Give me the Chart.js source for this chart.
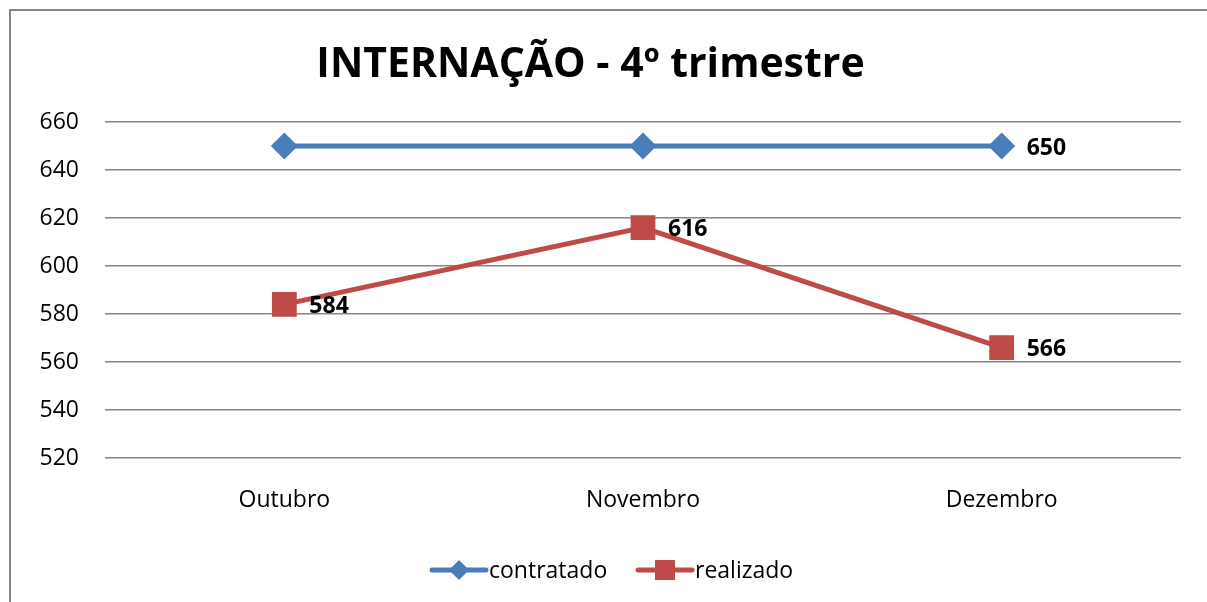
<!DOCTYPE html>
<html>
<head>
<meta charset="utf-8">
<script src="https://cdn.jsdelivr.net/npm/chart.js@4"></script>
<style>
  html, body { margin: 0; padding: 0; background: #fff; }
  #wrap { position: relative; width: 1207px; height: 602px; }
</style>
</head>
<body>
<div id="wrap"><canvas id="c"></canvas></div>
<script>
const categories = ['Outubro', 'Novembro', 'Dezembro'];
const contratado = [650, 650, 650];
const realizado = [584, 616, 566];
const contratadoShowLabel = [false, false, true];
const realizadoShowLabel = [true, true, true];
const yTicks = [520, 540, 560, 580, 600, 620, 640, 660];
const chartTitle = 'INTERNAÇÃO - 4º trimestre';

const FONT = "'Open Sans', 'DejaVu Sans', sans-serif";
const BLUE = '#4A7EBB';
const RED = '#BE4B48';

const frame = {
  id: 'frame',
  beforeDraw(chart) {
    const ctx = chart.ctx;
    ctx.save();
    ctx.strokeStyle = '#868686';
    ctx.lineWidth = 2;
    ctx.beginPath();
    ctx.moveTo(10, chart.height);
    ctx.lineTo(10, 10);
    ctx.lineTo(chart.width, 10);
    ctx.stroke();
    ctx.restore();
  }
};

const valueLabels = {
  id: 'valueLabels',
  afterDatasetsDraw(chart) {
    const ctx = chart.ctx;
    ctx.save();
    ctx.font = 'bold 23px ' + FONT;
    ctx.fillStyle = '#000';
    ctx.textAlign = 'left';
    ctx.textBaseline = 'middle';
    chart.data.datasets.forEach((ds, i) => {
      const meta = chart.getDatasetMeta(i);
      meta.data.forEach((pt, j) => {
        if (ds.showLabel && ds.showLabel[j]) {
          ctx.fillText(String(ds.data[j]), pt.x + 25, pt.y + 2);
        }
      });
    });
    ctx.restore();
  }
};

const lineLegend = {
  id: 'lineLegend',
  afterDraw(chart) {
    const ctx = chart.ctx;
    const y = 570;
    const items = [
      { x: 432, ds: chart.data.datasets[0] },
      { x: 638, ds: chart.data.datasets[1] }
    ];
    ctx.save();
    ctx.font = '23px ' + FONT;
    ctx.textBaseline = 'middle';
    ctx.textAlign = 'left';
    items.forEach(it => {
      const ds = it.ds;
      ctx.strokeStyle = ds.borderColor;
      ctx.lineWidth = 5;
      ctx.lineCap = 'round';
      ctx.beginPath();
      ctx.moveTo(it.x, y);
      ctx.lineTo(it.x + 54, y);
      ctx.stroke();
      ctx.fillStyle = ds.pointBackgroundColor;
      const cx = it.x + 27;
      ctx.beginPath();
      if (ds.pointStyle === 'rectRot') {
        ctx.moveTo(cx, y - 10); ctx.lineTo(cx + 10, y); ctx.lineTo(cx, y + 10); ctx.lineTo(cx - 10, y);
        ctx.closePath();
      } else {
        ctx.rect(cx - 10, y - 10, 20, 20);
      }
      ctx.fill();
      ctx.fillStyle = '#000';
      ctx.fillText(ds.label, it.x + 57, y + 1);
    });
    ctx.restore();
  }
};

new Chart(document.getElementById('c'), {
  type: 'line',
  data: {
    labels: categories,
    datasets: [
      {
        label: 'contratado',
        data: contratado,
        showLabel: contratadoShowLabel,
        borderColor: BLUE,
        backgroundColor: BLUE,
        pointBackgroundColor: BLUE,
        pointBorderColor: BLUE,
        pointStyle: 'rectRot',
        pointRadius: 10,
        pointHoverRadius: 10,
        borderWidth: 5,
        tension: 0
      },
      {
        label: 'realizado',
        data: realizado,
        showLabel: realizadoShowLabel,
        borderColor: RED,
        backgroundColor: RED,
        pointBackgroundColor: RED,
        pointBorderColor: RED,
        pointStyle: 'rect',
        pointRadius: 14,
        pointHoverRadius: 14,
        borderWidth: 5,
        tension: 0
      }
    ]
  },
  options: {
    responsive: true,
    maintainAspectRatio: false,
    animation: false,
    layout: { padding: { left: 0, right: 26, top: 0, bottom: 58.4 } },
    plugins: {
      legend: { display: false },
      tooltip: { enabled: false },
      title: {
        display: true,
        text: chartTitle,
        color: '#000',
        font: { family: FONT, size: 41, weight: 'bold' },
        padding: { top: 41, bottom: 31.8 }
      }
    },
    scales: {
      x: {
        offset: true,
        grid: { display: false, drawTicks: false },
        border: { display: false },
        ticks: { color: '#000', font: { family: FONT, size: 23 }, padding: 29, maxRotation: 0 }
      },
      y: {
        min: 520,
        max: 660,
        afterBuildTicks(scale) { scale.ticks = yTicks.map(v => ({ value: v })); },
        afterFit(scale) { scale.width = 105; },
        grid: { color: '#868686', lineWidth: 1.5, drawTicks: false },
        border: { display: false },
        ticks: { color: '#000', font: { family: FONT, size: 23 }, padding: 26 }
      }
    }
  },
  plugins: [frame, valueLabels, lineLegend]
});
</script>
</body>
</html>
